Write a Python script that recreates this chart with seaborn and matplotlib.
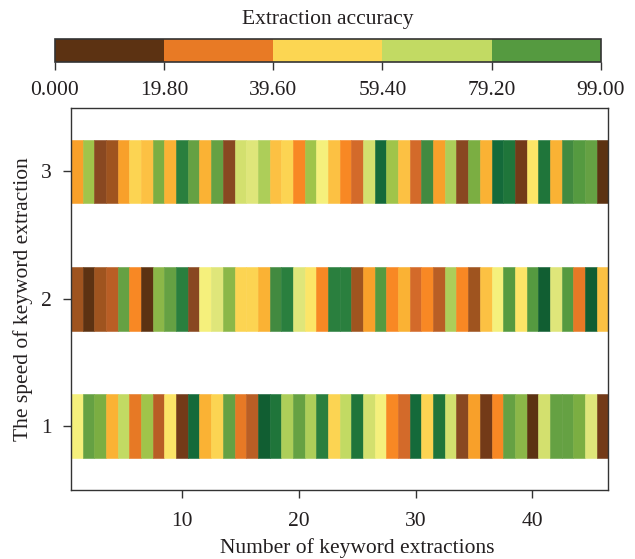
#!/usr/bin/env python3

# plot.py
#
# Keyword extraction accuracy strips, one row per extraction speed.
import matplotlib
matplotlib.use('Agg')
import matplotlib.pyplot as plt
import matplotlib.colors as mcolors
import numpy as np
import seaborn as sns

# Extraction accuracy of each keyword extraction, one list per speed level
SPEEDS = [1, 2, 3]
ACCURACY_SPEED_1 = [
  47.7, 77.0, 73.3, 33.0, 58.7, 22.0, 66.0, 14.7, 44.0, 3.7,
  95.3, 33.0, 40.3, 77.0, 22.0, 14.7, 99.0, 91.7, 62.3, 77.0,
  62.3, 88.0, 40.3, 58.7, 91.7, 55.0, 47.7, 25.7, 18.3, 95.3,
  40.3, 91.7, 55.0, 7.3, 29.3, 3.7, 25.7, 77.0, 69.7, 0.0,
  55.0, 77.0, 77.0, 73.3, 51.3, 3.7]
ACCURACY_SPEED_2 = [
  11.0, 0.0, 11.0, 14.7, 77.0, 25.7, 0.0, 69.7, 77.0, 88.0,
  7.3, 47.7, 51.3, 69.7, 40.3, 40.3, 33.0, 84.3, 88.0, 51.3,
  44.0, 25.7, 88.0, 88.0, 11.0, 29.3, 80.7, 25.7, 33.0, 18.3,
  25.7, 14.7, 62.3, 25.7, 11.0, 36.7, 47.7, 80.7, 44.0, 80.7,
  99.0, 51.3, 80.7, 22.0, 99.0, 36.7]
ACCURACY_SPEED_3 = [
  29.3, 66.0, 7.3, 11.0, 29.3, 40.3, 36.7, 73.3, 33.0, 88.0,
  77.0, 33.0, 77.0, 7.3, 55.0, 51.3, 62.3, 36.7, 40.3, 25.7,
  66.0, 47.7, 36.7, 25.7, 18.3, 55.0, 95.3, 66.0, 36.7, 18.3,
  84.3, 29.3, 62.3, 7.3, 73.3, 33.0, 95.3, 91.7, 3.7, 44.0,
  91.7, 33.0, 84.3, 80.7, 77.0, 0.0]

# Colour bar levels and their tick labels
LEVELS = [0.0, 19.8, 39.6, 59.4, 79.2, 99.0]
LEVEL_LABELS = ['0.000', '19.80', '39.60', '59.40', '79.20', '99.00']
LEVEL_COLORS = ['#5c3212', '#e87a25', '#fcd652', '#c2da63', '#559a40']

# Shades used for the individual cells, low to high accuracy
SHADES = [
  '#5c3212', '#743a18', '#8b4a22', '#a0541f', '#b85e25', '#d46a2a', '#e87a25',
  '#f88824', '#f8a12a', '#fab234', '#fcc244', '#fcd452', '#fce668', '#f6f07c',
  '#dee67a', '#d4e06e', '#c2da63', '#aecf5a', '#a0c44a', '#8cb848', '#7bae42',
  '#66a243', '#559a40', '#428a40', '#2a7f3e', '#20763a', '#146b3a', '#115e32']

FONT = ['Liberation Serif', 'DejaVu Serif']
SPINE = '#333333'
TEXT = '#231f20'
SIZE = 15.5


def main():
  sns.set_theme(style='ticks')
  plt.rcParams['font.family'] = FONT
  plt.rcParams['font.size'] = SIZE

  figure = plt.figure(figsize=(6.35, 5.59), dpi=100)
  axis = figure.add_axes([0.1118, 0.1234, 0.8462, 0.6839])
  cbar_axis = figure.add_axes([0.0866, 0.8891, 0.8594, 0.0412])

  # Continuous map for the cells
  shades = sns.blend_palette(SHADES, n_colors=256, as_cmap=True)
  norm = mcolors.Normalize(vmin=LEVELS[0], vmax=LEVELS[-1])

  rows = {1: ACCURACY_SPEED_1, 2: ACCURACY_SPEED_2, 3: ACCURACY_SPEED_3}
  for speed in SPEEDS:
    values = np.array(rows[speed])
    x = np.arange(1, len(values) + 1)
    colors = shades(norm(values))
    axis.bar(x, 0.5, width=1.0, bottom=speed - 0.25, color=colors,
             edgecolor=colors, linewidth=0.4)

  # Format the plot
  axis.set_xlim(0.5, len(ACCURACY_SPEED_1) + 0.5)
  axis.set_ylim(0.5, 3.5)
  axis.set_xticks([10, 20, 30, 40])
  axis.set_yticks(SPEEDS)
  axis.set_xlabel('Number of keyword extractions', fontsize=SIZE, color=TEXT)
  axis.set_ylabel('The speed of keyword extraction', fontsize=SIZE, color=TEXT, labelpad=6)
  axis.xaxis.set_label_coords(0.533, -0.125)
  axis.tick_params(direction='out', length=5.8, width=1, color=SPINE,
                   labelsize=SIZE, labelcolor=TEXT, pad=8)
  axis.tick_params(axis='x', pad=10)
  for spine in axis.spines.values():
    spine.set_color(SPINE)
    spine.set_linewidth(1.0)
  axis.grid(False)

  # Discrete colour bar on top
  stepped = mcolors.ListedColormap(LEVEL_COLORS)
  bounds = mcolors.BoundaryNorm(LEVELS, stepped.N)
  mappable = plt.cm.ScalarMappable(norm=bounds, cmap=stepped)
  colorbar = figure.colorbar(mappable, cax=cbar_axis, orientation='horizontal')
  colorbar.set_ticks(LEVELS)
  colorbar.set_ticklabels(LEVEL_LABELS)
  colorbar.outline.set_edgecolor(SPINE)
  colorbar.outline.set_linewidth(1.2)
  cbar_axis.tick_params(direction='out', length=5.8, width=1, color=SPINE,
                        labelsize=SIZE, labelcolor=TEXT, pad=8)
  cbar_axis.set_title('Extraction accuracy', fontsize=SIZE, color=TEXT, pad=11)

  plt.savefig('out.png', dpi=100)
  plt.close()


if __name__ == '__main__':
  main()
